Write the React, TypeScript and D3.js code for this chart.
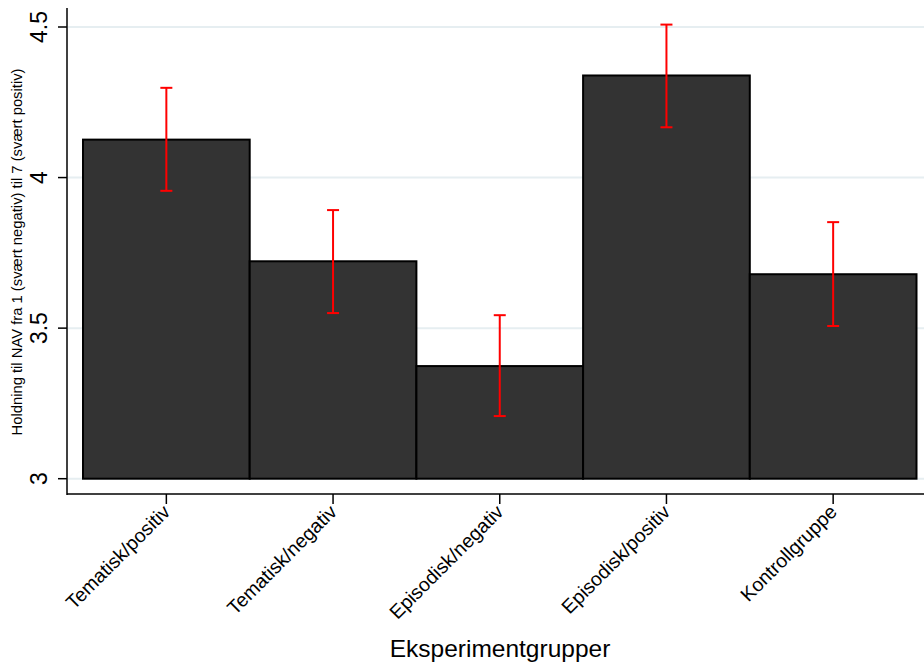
import { useEffect, useRef } from "react"
import * as d3 from "d3"

// Data
const groups = ["Tematisk/positiv", "Tematisk/negativ", "Episodisk/negativ", "Episodisk/positiv", "Kontrollgruppe"]
const means = [4.126, 3.722, 3.374, 4.339, 3.679]
const ciLow = [3.956, 3.55, 3.208, 4.167, 3.507]
const ciHigh = [4.298, 3.892, 3.543, 4.508, 3.852]
const yTicks = [3, 3.5, 4, 4.5]
const yTickLabels = ["3", "3.5", "4", "4.5"]

const yTitle = "Holdning til NAV fra 1 (svært negativ) til 7 (svært positiv)"
const xTitle = "Eksperimentgrupper"

export default function App() {
    const ref = useRef<SVGSVGElement>(null)

    useEffect(() => {
        const width = 924
        const height = 665
        const font = "'Liberation Sans', Arial, sans-serif"

        const svg = d3.select(ref.current)
        svg.selectAll("*").remove()

        const x = d3.scaleBand().domain(groups).range([83, 916.5]).padding(0)
        const y = d3.scaleLinear().domain([3, 4.5]).range([478.7, 27])

        const axisX = 67
        const axisY = 494

        // gridlines
        svg.append("g")
            .selectAll("line")
            .data(yTicks)
            .enter()
            .append("line")
            .attr("x1", axisX + 1)
            .attr("x2", width)
            .attr("y1", d => y(d))
            .attr("y2", d => y(d))
            .attr("stroke", "#e6eef1")
            .attr("stroke-width", 2)

        // bars
        svg.append("g")
            .selectAll("rect")
            .data(groups)
            .enter()
            .append("rect")
            .attr("x", d => x(d)!)
            .attr("width", x.bandwidth())
            .attr("y", (d, i) => y(means[i]))
            .attr("height", (d, i) => y(3) - y(means[i]))
            .attr("fill", "#333333")
            .attr("stroke", "#000")
            .attr("stroke-width", 2)

        // error bars
        const err = svg.append("g")
            .attr("stroke", "#ff0000")
            .attr("stroke-width", 2)
        groups.forEach((g, i) => {
            const cx = x(g)! + x.bandwidth() / 2
            err.append("line")
                .attr("x1", cx).attr("x2", cx)
                .attr("y1", y(ciLow[i])).attr("y2", y(ciHigh[i]))
            err.append("line")
                .attr("x1", cx - 6).attr("x2", cx + 6)
                .attr("y1", y(ciLow[i])).attr("y2", y(ciLow[i]))
            err.append("line")
                .attr("x1", cx - 6).attr("x2", cx + 6)
                .attr("y1", y(ciHigh[i])).attr("y2", y(ciHigh[i]))
        })

        // y axis
        svg.append("line")
            .attr("x1", axisX).attr("x2", axisX)
            .attr("y1", 8).attr("y2", axisY + 1)
            .attr("stroke", "#000")
            .attr("stroke-width", 1.5)

        const yt = svg.append("g")
        yt.selectAll("line")
            .data(yTicks)
            .enter()
            .append("line")
            .attr("x1", 58).attr("x2", axisX)
            .attr("y1", d => y(d)).attr("y2", d => y(d))
            .attr("stroke", "#000")
            .attr("stroke-width", 1.5)
        yt.selectAll("text")
            .data(yTicks)
            .enter()
            .append("text")
            .attr("transform", d => `translate(47, ${y(d)}) rotate(-90)`)
            .attr("text-anchor", "middle")
            .attr("font-family", font)
            .attr("font-size", 23)
            .text((d, i) => yTickLabels[i])

        svg.append("text")
            .attr("transform", `translate(22, 252) rotate(-90)`)
            .attr("text-anchor", "middle")
            .attr("font-family", font)
            .attr("font-size", 14)
            .attr("textLength", 367)
            .attr("lengthAdjust", "spacingAndGlyphs")
            .text(yTitle)

        // x axis
        svg.append("line")
            .attr("x1", axisX).attr("x2", width)
            .attr("y1", axisY).attr("y2", axisY)
            .attr("stroke", "#000")
            .attr("stroke-width", 1.5)

        const xt = svg.append("g")
        groups.forEach(g => {
            const cx = x(g)! + x.bandwidth() / 2
            xt.append("line")
                .attr("x1", cx).attr("x2", cx)
                .attr("y1", axisY).attr("y2", axisY + 10)
                .attr("stroke", "#000")
                .attr("stroke-width", 1.5)
            xt.append("text")
                .attr("transform", `translate(${cx + 5}, ${axisY + 19}) rotate(-45)`)
                .attr("text-anchor", "end")
                .attr("font-family", font)
                .attr("font-size", 19.5)
                .text(g)
        })

        svg.append("text")
            .attr("x", 500)
            .attr("y", 657)
            .attr("text-anchor", "middle")
            .attr("font-family", font)
            .attr("font-size", 24.5)
            .text(xTitle)

        svg.attr("width", width).attr("height", height)
    })

    return (
        <svg ref={ref} width="924" height="665"
            style={{ position: "absolute", left: 0, top: 0, background: "#fff" }}></svg>
    )
}
